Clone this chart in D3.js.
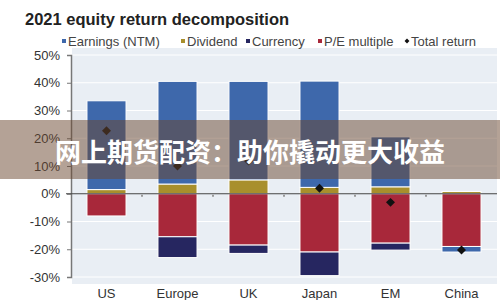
<!DOCTYPE html>
<html>
<head>
<meta charset="utf-8">
<script src="https://cdn.jsdelivr.net/npm/d3@7"></script>
<style>
  body { margin: 0; background: #fff; }
  text { font-family: "Liberation Sans", Arial, sans-serif; }
</style>
</head>
<body>
<div id="chart"></div>
<script>
// values (percent)
const countries = ['US', 'Europe', 'UK', 'Japan', 'EM', 'China'];
const earnings = [32, 37, 35.5, 38.3, 18, -2];
const dividend = [1.5, 3.5, 5, 2.3, 2.5, 0.8];
const currency = [0, -7.5, -3, -8.5, -2.5, 0];
const peMultiple = [-8, -15.5, -18.5, -21, -17.8, -19];
const totalReturn = [22.7, 10, 11.8, 2, -3.1, -20.3];
const yTicks = [-30, -20, -10, 0, 10, 20, 30, 40, 50];

const seriesInfo = [
  {key: 'earnings', name: 'Earnings (NTM)', color: '#3e68ab'},
  {key: 'dividend', name: 'Dividend', color: '#a88f2c'},
  {key: 'currency', name: 'Currency', color: '#262660'},
  {key: 'pe', name: 'P/E multiple', color: '#a8283a'}
];
const colorOf = {};
seriesInfo.forEach((s) => { colorOf[s.key] = s.color; });

const W = 500, H = 300;
const svg = d3.select('#chart').append('svg')
  .attr('width', W).attr('height', H);

const x = d3.scaleBand().domain(countries).range([71, 497]).paddingInner(0.45).paddingOuter(0.225);
const y = d3.scaleLinear().domain([-30, 50]).range([277, 55]);

// plot panel + grid
svg.append('rect')
  .attr('x', 72).attr('y', 48).attr('width', 425).attr('height', 236)
  .attr('fill', '#e9eef4');
svg.append('g').selectAll('line')
  .data(yTicks.filter((t) => t !== 0))
  .enter().append('line')
  .attr('x1', 72).attr('x2', 497)
  .attr('y1', (d) => y(d)).attr('y2', (d) => y(d))
  .attr('stroke', '#fff').attr('stroke-width', 1);

// stacked bars
const rows = countries.map((c, i) => ({
  country: c,
  earnings: earnings[i],
  dividend: dividend[i],
  currency: currency[i],
  pe: peMultiple[i]
}));
const stack = d3.stack()
  .keys(['dividend', 'pe', 'earnings', 'currency'])
  .offset(d3.stackOffsetDiverging);

svg.append('g').selectAll('g')
  .data(stack(rows))
  .enter().append('g')
  .attr('fill', (d) => colorOf[d.key])
  .selectAll('rect')
  .data((d) => d.filter((v) => v[1] - v[0] !== 0))
  .enter().append('rect')
  .attr('x', (d) => x(d.data.country))
  .attr('width', x.bandwidth())
  .attr('y', (d) => y(Math.max(d[0], d[1])))
  .attr('height', (d) => Math.abs(y(d[0]) - y(d[1])))
  .attr('stroke', '#fff').attr('stroke-width', 1);

// y axis
const yAxis = d3.axisLeft(y).tickValues(yTicks).tickSize(4)
  .tickFormat((d) => d + '%');
const ya = svg.append('g').attr('transform', 'translate(71,0)').call(yAxis);
ya.select('.domain').attr('stroke', '#777').attr('stroke-width', 1.5);
ya.selectAll('.tick line').attr('stroke', '#777');
ya.selectAll('.tick text')
  .attr('x', -11).attr('fill', '#333')
  .style('font-size', '13px')
  .style('font-family', '"Liberation Sans", Arial, sans-serif');

// zero line + x axis labels
svg.append('line')
  .attr('x1', 66).attr('x2', 497)
  .attr('y1', y(0)).attr('y2', y(0))
  .attr('stroke', '#444').attr('stroke-width', 1.2);
const xAxis = d3.axisBottom(x).tickSize(0);
const xa = svg.append('g').attr('transform', 'translate(0,285)').call(xAxis);
xa.select('.domain').remove();
xa.selectAll('.tick text')
  .attr('dy', '0.75em').attr('fill', '#333')
  .style('font-size', '13px')
  .style('font-family', '"Liberation Sans", Arial, sans-serif');

// small marks between categories on zero line
svg.append('g').selectAll('rect')
  .data(countries.slice(1))
  .enter().append('rect')
  .attr('x', (d) => x(d) - x.step() * x.paddingInner() / 2 - 1)
  .attr('y', y(0) + 1).attr('width', 2).attr('height', 2)
  .attr('fill', '#999');

// total return diamonds
svg.append('g').selectAll('path')
  .data(totalReturn)
  .enter().append('path')
  .attr('d', d3.symbol(d3.symbolSquare, 40))
  .attr('transform', (d, i) => 'translate(' + (x(countries[i]) + x.bandwidth() / 2) + ',' + y(d) + ') rotate(45)')
  .attr('fill', '#111');

// title
svg.append('text')
  .attr('x', 25).attr('y', 25)
  .attr('fill', '#222')
  .style('font-size', '16.5px').style('font-weight', 'bold')
  .text('2021 equity return decomposition');

// legend
const legendItems = seriesInfo.map((s) => ({name: s.name, color: s.color, diamond: false}))
  .concat([{name: 'Total return', color: '#111', diamond: true}]);
const legendX = [62, 181, 246, 318, 405];
const lg = svg.append('g').selectAll('g')
  .data(legendItems)
  .enter().append('g')
  .attr('transform', (d, i) => 'translate(' + legendX[i] + ',41)');
lg.filter((d) => !d.diamond).append('rect')
  .attr('x', 0).attr('y', -2).attr('width', 4).attr('height', 4)
  .attr('fill', (d) => d.color);
lg.filter((d) => d.diamond).append('path')
  .attr('d', d3.symbol(d3.symbolSquare, 12))
  .attr('transform', 'translate(2,0) rotate(45)')
  .attr('fill', (d) => d.color);
lg.append('text')
  .attr('x', 6).attr('y', 4.5)
  .attr('fill', '#444')
  .style('font-size', '13px')
  .text((d) => d.name);

// watermark band over the picture
svg.append('rect')
  .attr('x', 0).attr('y', 120).attr('width', W).attr('height', 59)
  .attr('fill', 'rgba(105,70,45,0.5)');
svg.append('text')
  .attr('x', 250).attr('y', 162)
  .attr('text-anchor', 'middle')
  .attr('fill', '#fff')
  .style('font-family', '"Noto Sans CJK SC", sans-serif')
  .style('font-size', '26px').style('font-weight', 'bold')
  .text('网上期货配资：助你撬动更大收益');
</script>
</body>
</html>
